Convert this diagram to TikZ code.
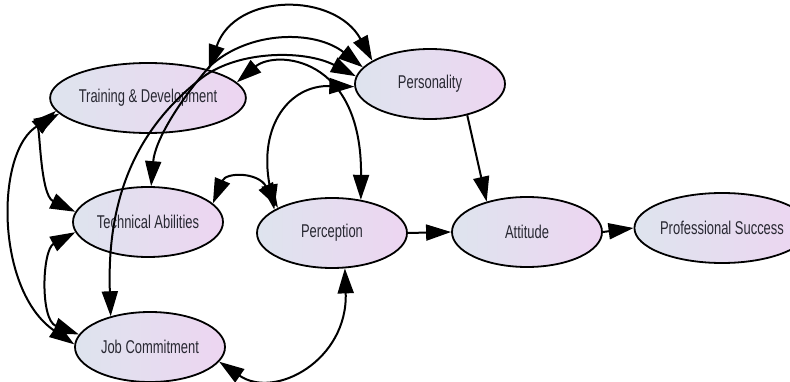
\documentclass[tikz,border=0pt]{standalone}
\usepackage{fontspec}
\setmainfont{Liberation Sans}[FakeStretch=0.7]
\usetikzlibrary{shapes.geometric,arrows.meta}
\definecolor{nodeL}{RGB}{222,228,238}
\definecolor{nodeR}{RGB}{237,213,241}
\definecolor{txt}{RGB}{40,40,50}
\begin{document}
\begin{tikzpicture}[x=1pt,y=-1pt,
  var/.style={ellipse, draw=black, line width=1.8pt, left color=nodeL, right color=nodeR,
    minimum width=150pt, minimum height=70pt, inner sep=0pt,
    font=\fontsize{18.5}{22}\selectfont, text=txt},
  tip/.style={Triangle[length=25pt,width=16pt]},
  link/.style={line width=2pt, -{Triangle[length=25pt,width=16pt]}},
  both/.style={line width=2pt, {Triangle[length=25pt,width=16pt]}-{Triangle[length=25pt,width=16pt]}}]
\useasboundingbox (0,0) rectangle (790,382);
\clip (0,0) rectangle (790,382);
\fill[white] (0,0) rectangle (790,382);

\node[var] (TD) at (148,98) {Training \& Development};
\node[var] (TA) at (148,222) {Technical Abilities};
\node[var] (JC) at (150,347) {Job Commitment};
\node[var] (PC) at (332,233) {Perception};
\node[var] (PE) at (430,84) {Personality};
\node[var] (AT) at (527,232) {Attitude};
\node[var] (PS) at (722,228) {Professional Success};

% top arcs
\draw[both] (TD.25) .. controls (235,-8) and (335,-8) .. (PE.158);
\draw[both] (PE.166) .. controls (315,30) and (250,30) .. (210,66)
            .. controls (180,100) and (155,140) .. (TA.85);
\draw[both] (PE.174) .. controls (305,50) and (240,50) .. (203,77)
            .. controls (150,118) and (106,180) .. (JC.142);
\draw[both] (TD.10) .. controls (275,50) and (362,55) .. (PC.49);
\draw[both] (PE.182) .. controls (290,85) and (258,125) .. (PC.158);
\draw[both] (TA.16) .. controls (226,172) and (258,172) .. (PC.155);
\draw[both] (PC.-70) .. controls (348,360) and (275,400) .. (JC.-12);

% left arcs
\draw[both] (TD.188) .. controls (40,125) and (40,195) .. (TA.172);
\draw[both] (TD.190) .. controls (-5,150) and (-5,290) .. (JC.178);
\draw[both] (TA.188) .. controls (42,250) and (40,320) .. (JC.170);

% straight links
\draw[link] (PE.-40) -- (AT.143);
\draw[link] (PC.east) -- (AT.west);
\draw[link] (AT.east) -- (PS.west);
\end{tikzpicture}
\end{document}
